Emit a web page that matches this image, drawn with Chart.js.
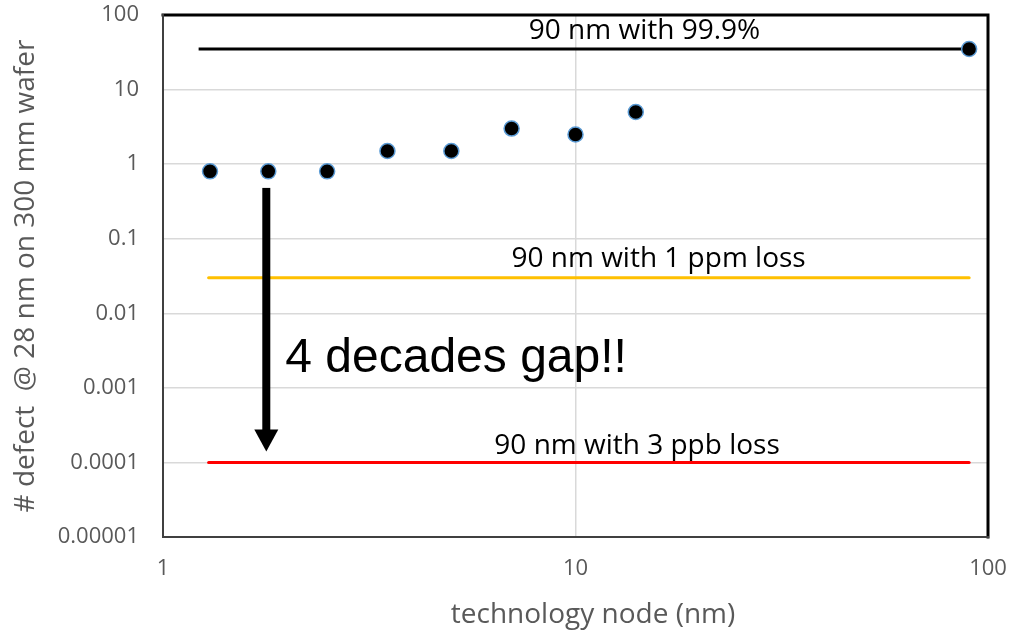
<!DOCTYPE html>
<html>
<head>
<meta charset="utf-8">
<script src="https://cdn.jsdelivr.net/npm/chart.js@4.4.1/dist/chart.umd.min.js"></script>
<style>
    html, body { margin: 0; padding: 0; background: #fff; }
    #wrap { width: 1009px; height: 636px; }
</style>
</head>
<body>
<div id="wrap"><canvas id="defect-chart"></canvas></div>
<script>
// measured defect counts per technology node
const nodes = [1.3, 1.8, 2.5, 3.5, 5, 7, 10, 14, 90]
const defects = [0.8, 0.8, 0.8, 1.5, 1.5, 3, 2.5, 5, 35]

// 90 nm reference levels
const refNames = ["90 nm with 99.9%", "90 nm with 1 ppm loss", "90 nm with 3 ppb loss"]
const refLevels = [35, 0.03, 0.0001]
const refFrom = [1.22, 1.29, 1.29]
const refTo = [90, 90, 90]
const refColors = ["#000000", "#FFC000", "#FF0000"]

// the "gap" arrow, node and defect range
const gapNode = 1.78
const gapRange = [0.48, 0.00014]
const gapText = "4 decades gap!!"

const xTicks = [1, 10, 100]
const xTickLabels = ["1", "10", "100"]
const yTicks = [0.00001, 0.0001, 0.001, 0.01, 0.1, 1, 10, 100]
const yTickLabels = ["0.00001", "0.0001", "0.001", "0.01", "0.1", "1", "10", "100"]

const tickFont = { family : "Open Sans", size : 22 }
const textGrey = "#595959"

const annotations = {
    id : "annotations",
    afterDatasetsDraw(chart) {
        const { ctx, scales : { x, y } } = chart
        ctx.save()

        // captions above the reference lines
        const labelNode = [14.7, 15.9, 14.1]
        const labelLift = [18, 19, 16]
        ctx.fillStyle = "#000"
        ctx.font = "28px 'Open Sans'"
        ctx.textAlign = "center"
        ctx.textBaseline = "middle"
        refNames.forEach((name, i) => {
            ctx.fillText(name, x.getPixelForValue(labelNode[i]), y.getPixelForValue(refLevels[i]) - labelLift[i])
        })

        // downward arrow
        const ax = x.getPixelForValue(gapNode)
        const top = y.getPixelForValue(gapRange[0])
        const tip = y.getPixelForValue(gapRange[1])
        const headH = 22, headW = 24
        ctx.fillStyle = "#000"
        ctx.fillRect(ax - 4, top, 8, tip - headH - top + 1)
        ctx.beginPath()
        ctx.moveTo(ax - headW / 2, tip - headH)
        ctx.lineTo(ax + headW / 2, tip - headH)
        ctx.lineTo(ax, tip)
        ctx.closePath()
        ctx.fill()

        ctx.font = "48px 'Liberation Sans'"
        ctx.textAlign = "left"
        ctx.textBaseline = "alphabetic"
        ctx.fillText(gapText, ax + 19, y.getPixelForValue(0.0028) + 17)

        // x axis title
        ctx.fillStyle = textGrey
        ctx.font = "28px 'Open Sans'"
        ctx.textAlign = "center"
        ctx.textBaseline = "middle"
        ctx.fillText("technology node (nm)", 593, 615)
        ctx.restore()
    },
    afterDraw(chart) {
        const { ctx, chartArea : a } = chart
        ctx.save()
        ctx.lineCap = "square"
        ctx.strokeStyle = "#000"
        ctx.lineWidth = 3
        ctx.beginPath()
        ctx.moveTo(a.left, a.top)
        ctx.lineTo(a.right, a.top)
        ctx.lineTo(a.right, a.bottom)
        ctx.stroke()
        ctx.strokeStyle = "#404040"
        ctx.lineWidth = 2
        ctx.beginPath()
        ctx.moveTo(a.left, a.top)
        ctx.lineTo(a.left, a.bottom)
        ctx.lineTo(a.right, a.bottom)
        ctx.stroke()
        ctx.restore()
    },
}

// keep the plot box where the layout padding puts it
const noEdgePadding = (scale) => {
    scale.paddingTop = 0
    scale.paddingBottom = 0
    scale.paddingLeft = 0
    scale.paddingRight = 0
}

const refSets = refNames.map((name, i) => ({
    label : name,
    data : [{ x : refFrom[i], y : refLevels[i] }, { x : refTo[i], y : refLevels[i] }],
    showLine : true,
    borderColor : refColors[i],
    borderWidth : 3,
    borderCapStyle : i === 0 ? "butt" : "round",
    pointRadius : 0,
    order : 1,
}))

const defectChart = new Chart(document.getElementById("defect-chart").getContext("2d"), {
    type : "scatter",
    data : {
        datasets : [{
            label : "defects",
            data : nodes.map((n, i) => ({ x : n, y : defects[i] })),
            backgroundColor : "#000000",
            borderColor : "#5B9BD5",
            borderWidth : 1.5,
            pointRadius : 7.5,
            order : 0,
        }, ...refSets],
    },
    options : {
        responsive : true,
        maintainAspectRatio : false,
        animation : false,
        layout : {
            padding : { left : 0, top : 15, right : 21, bottom : 0 },
        },
        scales : {
            x : {
                type : "logarithmic",
                min : 1,
                max : 100,
                afterBuildTicks : (scale) => { scale.ticks = xTicks.map(v => ({ value : v })) },
                afterFit : (scale) => { scale.height = 99; noEdgePadding(scale) },
                ticks : {
                    autoSkip : false,
                    maxRotation : 0,
                    padding : 19,
                    color : textGrey,
                    font : tickFont,
                    callback : (v) => xTickLabels[xTicks.indexOf(v)],
                },
                grid : { color : "#D9D9D9", lineWidth : 1.5, drawTicks : false },
                border : { display : false },
            },
            y : {
                type : "logarithmic",
                min : 0.00001,
                max : 100,
                afterBuildTicks : (scale) => { scale.ticks = yTicks.map(v => ({ value : v })) },
                afterFit : (scale) => { scale.width = 163; noEdgePadding(scale) },
                ticks : {
                    autoSkip : false,
                    padding : 24,
                    color : textGrey,
                    font : tickFont,
                    callback : (v) => yTickLabels[yTicks.indexOf(v)],
                },
                grid : { color : "#D9D9D9", lineWidth : 1.5, drawTicks : false },
                border : { display : false },
                title : {
                    display : true,
                    text : "# defect  @ 28 nm on 300 mm wafer",
                    color : textGrey,
                    font : { family : "Open Sans", size : 28 },
                    padding : { top : 9, bottom : 0 },
                },
            },
        },
        plugins : {
            legend : { display : false },
            tooltip : { enabled : false },
        },
    },
    plugins : [annotations],
})
</script>
</body>
</html>
